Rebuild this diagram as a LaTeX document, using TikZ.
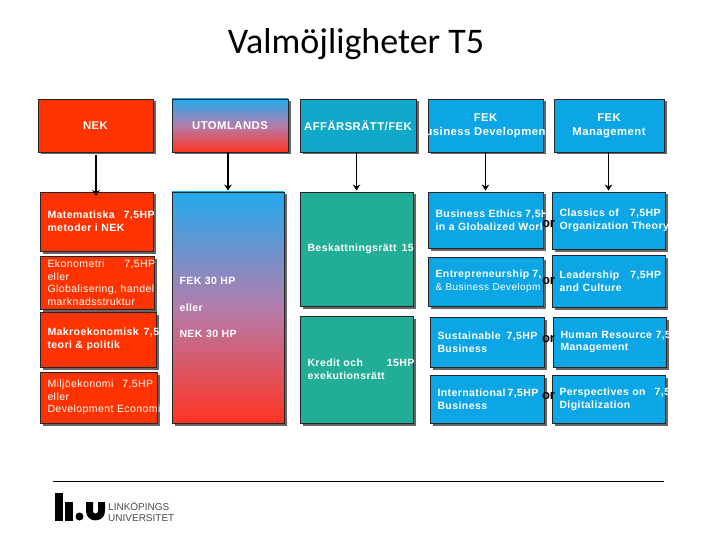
\documentclass[tikz,border=0pt]{standalone}
\usepackage{fontspec}
\usepackage{tikz}
\usetikzlibrary{positioning, arrows.meta, shadows}
\setmainfont{Liberation Sans}
\newfontfamily\titlefont{Carlito}
\newfontfamily\boldspaced[LetterSpace=4,BoldFont={Liberation Sans Bold}]{Liberation Sans}
\definecolor{nekred}{HTML}{FF3300}
\definecolor{fekblue}{HTML}{0CA6E6}
\definecolor{skyblue}{HTML}{22AAEE}
\definecolor{jurteal}{HTML}{10A8C8}
\definecolor{jurgreen}{HTML}{22AE96}
\definecolor{gradred}{HTML}{FF3322}
\definecolor{gradmid}{HTML}{B47CAC}

\begin{document}
\begin{tikzpicture}[x=1pt, y=-1pt, >=Stealth,
          course/.style={draw=black!85, line width=0.9pt, rectangle, text=white, inner xsep=7.5pt, inner ysep=0pt,
            align=left, font=\boldspaced\fontsize{10.5}{12.8}\selectfont\bfseries,
            drop shadow={shadow xshift=2.5pt, shadow yshift=-2.5pt, fill=black!60, opacity=1}},
          thin text/.style={font=\boldspaced\fontsize{10.5}{12.5}\selectfont},
          head/.style={course, inner xsep=0pt, align=center, font=\boldspaced\fontsize{11.3}{14}\selectfont\bfseries},
          nek/.style={fill=nekred},
          fek/.style={fill=fekblue},
          law/.style={fill=jurgreen},
          abroad/.style={top color=skyblue, bottom color=gradred, middle color=gradmid},
          pick/.style={->, line width=1.9pt, >={Stealth[length=6pt,width=7.5pt]}, shorten >=1pt},
          orword/.style={font=\bfseries\fontsize{13}{13}\selectfont, inner sep=0pt}
        ]
        \useasboundingbox (0,0) rectangle (720,540);
        \node[font=\titlefont\fontsize{36}{36}\selectfont] (title) at (356,44) {Valmöjligheter T5};

        % rubriker
        \node[head, nek, text width=115pt, minimum height=53pt] (nekh) at (95.5,125.5) {NEK};
        \node[head, abroad, text width=116pt, minimum height=53pt] (utoh) at (230,125.5) {UTOMLANDS};
        \node[head, fill=jurteal, text width=116pt, minimum height=53pt] (affh) at (358,125.5) {AFFÄRSRÄTT/FEK};
        \node[head, fek, text width=115pt, minimum height=53pt] (bdh) at (485.5,125.5) {FEK\\\makebox[0pt]{usiness Developmen}};
        \node[head, fek, text width=110pt, minimum height=53pt] (mgh) at (609,125.5) {FEK\\Management};

        % NEK
        \node[course, nek, text width=98pt, minimum height=59pt] (mat) at (96.5,221.5) {\mbox{Matematiska\hspace{9pt}7,5HP}\\metoder i NEK};
        \node[course, nek, thin text, text width=99pt, minimum height=53pt] (eko) at (97,282.5) {\mbox{Ekonometri\hspace{20pt}7,5HP}\\eller\\\mbox{Globalisering, handel}\\marknadsstruktur};
        \node[course, nek, text width=101pt, minimum height=55pt] (mak) at (98,339.5) {\mbox{Makroekonomisk\hspace{5pt}7,5}\\teori \& politik};
        \node[course, nek, thin text, text width=102pt, minimum height=51pt] (mil) at (98.5,397.5) {\mbox{Miljöekonomi\hspace{9pt}7,5HP}\\eller\\\mbox{Development Economi}};

        % utomlands
        \node[course, abroad, text width=97pt, minimum height=231pt] (utl) at (228,307.5) {FEK 30 HP\\[14pt]eller\\[14pt]NEK 30 HP};

        % juridik
        \node[course, law, text width=98pt, minimum height=114pt] (bes) at (356.5,249) {\mbox{Beskattningsrätt\hspace{5pt}15}};
        \node[course, law, text width=98pt, minimum height=107pt] (kre) at (356.5,369.5) {\mbox{Kredit och\hspace{24pt}15HP}\\exekutionsrätt};

        % FEK
        \node[course, fek, text width=100pt, minimum height=56pt] (eth) at (485.5,220) {\mbox{Business Ethics\hspace{3pt}7,5H}\\\mbox{in a Globalized Worl}};
        \node[course, fek, text width=98pt, minimum height=57pt] (cla) at (608.5,220.5) {\mbox{Classics of\hspace{11pt}7,5HP}\\\mbox{Organization Theory}};
        \node[course, fek, text width=100pt, minimum height=49pt] (ent) at (485.5,281.5) {\mbox{Entrepreneurship\hspace{3pt}7,}\\{\normalfont\boldspaced\fontsize{10}{12}\selectfont\mbox{\& Business Developm}}};
        \node[course, fek, text width=98pt, minimum height=52pt] (lea) at (608.5,281) {\mbox{Leadership\hspace{11pt}7,5HP}\\and Culture};
        \node[course, fek, text width=99pt, minimum height=50pt] (sus) at (487,342) {\mbox{Sustainable\hspace{6pt}7,5HP}\\Business};
        \node[course, fek, text width=98pt, minimum height=50pt] (hum) at (609.5,342) {\mbox{Human Resource 7,5}\\Management};
        \node[course, fek, text width=99pt, minimum height=48pt] (int) at (487,399) {\mbox{International\hspace{2pt}7,5HP}\\Business};
        \node[course, fek, text width=98pt, minimum height=48pt] (per) at (608.5,399) {\mbox{Perspectives on\hspace{9pt}7,5}\\Digitalization};

        % or ligger ovanpa
        \node[orword] (or1) at (548.5,224) {or};
        \node[orword] (or2) at (548.5,281) {or};
        \node[orword] (or3) at (548.5,339) {or};
        \node[orword] (or4) at (548.5,396) {or};

        % pilar
        \coordinate (nekstart) at (96,155);
        \coordinate (nekend) at (96,197);
        \draw[pick] (nekstart) -- (nekend);
        \draw[pick] (utl.north |- utoh.south) -- (utl.north);
        \draw[pick] (bes.north |- affh.south) -- (bes.north);
        \draw[pick] (eth.north |- bdh.south) -- (eth.north);
        \draw[pick] (cla.north |- mgh.south) -- (cla.north);

        % fot
        \coordinate (footl) at (53,481);
        \coordinate (footr) at (664,481);
        \draw[line width=0.9pt] (footl) -- (footr);
        \fill (54.5,493) rectangle (62.5,520.5);
        \fill (65,502) rectangle (73,520.5);
        \fill (79.5,516.5) circle (4);
        \fill (86,502) -- (86,511) .. controls (86,523.5) and (105,523.5) .. (105,511) -- (105,502) -- (98,502) -- (98,511) .. controls (98,514.5) and (93,514.5) .. (93,511) -- (93,502) -- cycle;
        \node[font=\fontsize{10}{11}\selectfont, align=left, inner sep=0pt, text=black!70, anchor=west] (liu) at (108,511.5) {LINKÖPINGS\\UNIVERSITET};
      \end{tikzpicture}
\end{document}
